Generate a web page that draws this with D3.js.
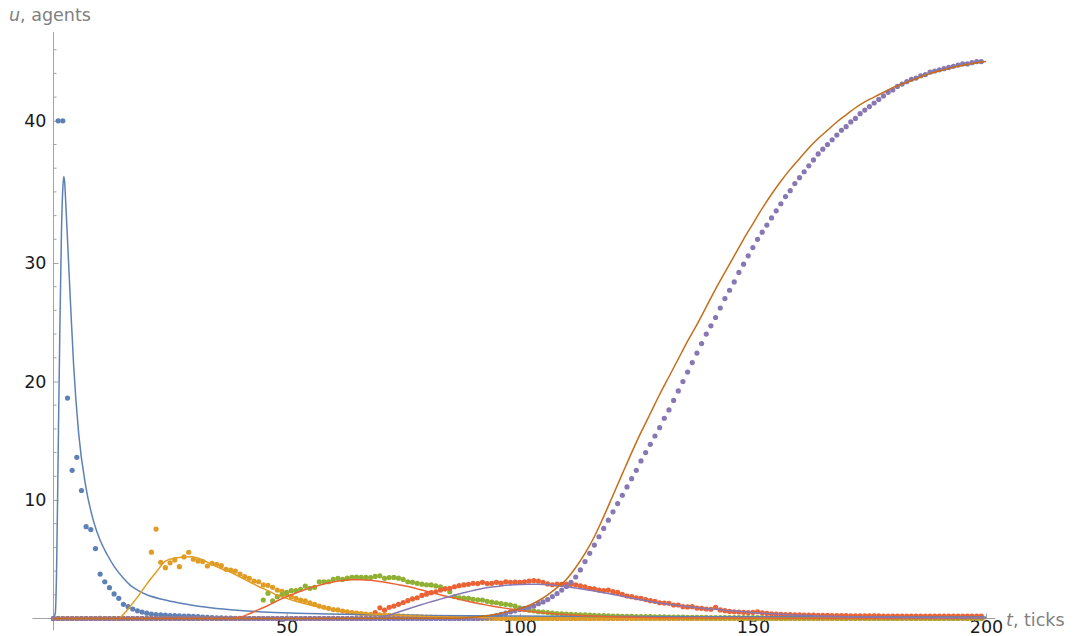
<!DOCTYPE html>
<html><head><meta charset="utf-8">
<script src="https://cdn.jsdelivr.net/npm/d3@7"></script>
<style>body{margin:0;background:#fff}svg{display:block}</style>
</head><body>
<svg id="c" width="1076" height="636"></svg>
<script>
// ---- tick data ----
const xTicks = [50, 100, 150, 200];
const xTickLabels = ["50", "100", "150", "200"];
const xMinor = [10,20,30,40,60,70,80,90,110,120,130,140,160,170,180,190];
const yTicks = [10, 20, 30, 42];
const yTickLabels = ["10", "20", "30", "40"];
const yMinor = [2,4,6,8,12,14,16,18,22,24,26,28,32,34,36,38,40,44,46,48];

// ---- simulation points, t = 0..199 ----
const blueDots = [
0,42,42,18.6,12.5,13.6,10.8,7.75,7.5,5.9,
3.75,3.1,2.6,2.07,1.7,1.2,1.0,0.8,0.65,0.55,
0.45,0.38,0.33,0.3,0.28,0.25,0.24,0.22,0.2,0.2,
0.18,0.15,0.12,0.1,0.08,0.06,0.05,0.04,0.03,0.02,
0,0,0,0,0,0,0,0,0,0, 0,0,0,0,0,0,0,0,0,0,
0,0,0,0,0,0,0,0,0,0, 0,0,0,0,0,0,0,0,0,0,
0,0,0,0,0,0,0,0,0,0, 0,0,0,0,0,0,0,0,0,0,
0,0,0,0,0,0,0,0,0,0, 0,0,0,0,0,0,0,0,0,0,
0,0,0,0,0,0,0,0,0,0, 0,0,0,0,0,0,0,0,0,0,
0,0,0,0,0,0,0,0,0,0, 0,0,0,0,0,0,0,0,0,0,
0,0,0,0,0,0,0,0,0,0, 0,0,0,0,0,0,0,0,0,0,
0,0,0,0,0,0,0,0,0,0, 0,0,0,0,0,0,0,0,0,0];
const orangeDots = [
0,0,0,0,0,0,0,0,0,0,
0,0,0,0,0,0,0,0,0,0,
0,5.6,7.55,4.74,4.29,4.7,4.94,4.37,5.2,5.59,
5.0,4.85,4.8,4.43,4.66,4.57,4.46,4.15,4.09,4.0,
3.75,3.53,3.39,3.16,3.1,2.83,2.8,2.63,2.4,2.3,
2.0,1.84,1.7,1.56,1.48,1.33,1.2,1.05,0.95,0.86,
0.75,0.72,0.63,0.57,0.5,0.45,0.42,0.38,0.35,0.33,
0.3,0.28,0.26,0.24,0.22,0.2,0.18,0.17,0.15,0.14,
0.12,0.11,0.1,0.09,0.08,0.07,0.06,0.05,0.05,0.04,
0.04,0.03,0.03,0.02,0.02,0.01,0,0,0,0,
0,0,0,0,0,0,0,0,0,0, 0,0,0,0,0,0,0,0,0,0,
0,0,0,0,0,0,0,0,0,0, 0,0,0,0,0,0,0,0,0,0,
0,0,0,0,0,0,0,0,0,0, 0,0,0,0,0,0,0,0,0,0,
0,0,0,0,0,0,0,0,0,0, 0,0,0,0,0,0,0,0,0,0,
0,0,0,0,0,0,0,0,0,0, 0,0,0,0,0,0,0,0,0,0];
const greenDots = [
0,0,0,0,0,0,0,0,0,0, 0,0,0,0,0,0,0,0,0,0,
0,0,0,0,0,0,0,0,0,0, 0,0,0,0,0,0,0,0,0,0,
0,0,0,0,0,1.56,2.13,1.48,1.84,2.0,
2.2,2.35,2.35,2.46,2.74,2.55,2.63,3.1,3.1,3.1,
3.3,3.39,3.3,3.4,3.47,3.5,3.47,3.47,3.45,3.55,
3.6,3.39,3.45,3.47,3.4,3.3,3.1,3.05,2.97,2.9,
2.85,2.83,2.75,2.68,2.5,2.26,1.85,1.75,1.72,1.7,
1.62,1.58,1.56,1.45,1.38,1.33,1.25,1.2,1.14,1.05,
0.9,0.75,0.7,0.65,0.57,0.55,0.5,0.45,0.42,0.4,
0.38,0.35,0.33,0.31,0.3,0.28,0.26,0.25,0.24,0.22,
0.21,0.2,0.19,0.18,0.18,0.17,0.16,0.15,0.15,0.14,
0.13,0.13,0.12,0.12,0.11,0.11,0.1,0.1,0.1,0.09,
0.09,0.08,0.08,0.08,0.08,0.08,0.08,0.08,0.08,0.08,
0.07,0.07,0.07,0.07,0.07,0.07,0.07,0.07,0.07,0.07,
0.06,0.06,0.06,0.06,0.06,0.06,0.06,0.06,0.06,0.06,
0.05,0.05,0.05,0.05,0.05,0.05,0.05,0.05,0.05,0.05,
0.05,0.05,0.05,0.05,0.05,0.05,0.05,0.05,0.05,0.05,
0.04,0.04,0.04,0.04,0.04,0.04,0.04,0.04,0.04,0.04];
const redDots = [
0,0,0,0,0,0,0,0,0,0, 0,0,0,0,0,0,0,0,0,0,
0,0,0,0,0,0,0,0,0,0, 0,0,0,0,0,0,0,0,0,0,
0,0,0,0,0,0,0,0,0,0, 0,0,0,0,0,0,0,0,0,0,
0,0,0,0,0,0,0,0,0,0.5,
0.9,0.7,0.95,1.05,1.2,1.35,1.5,1.65,1.75,1.95,
2.05,2.18,2.25,2.4,2.5,2.55,2.68,2.77,2.83,2.88,
2.97,2.95,3.05,2.95,2.97,3.05,2.98,3.1,3.05,3.08,
3.05,3.1,3.16,3.2,3.16,3.05,2.92,2.85,2.9,2.88,
2.9,2.88,2.85,2.75,2.68,2.55,2.5,2.4,2.35,2.4,
2.26,2.2,2.04,1.9,1.84,1.75,1.7,1.6,1.5,1.45,
1.33,1.3,1.28,1.14,1.14,1.0,0.98,1.0,0.88,0.86,
0.8,0.78,0.95,0.72,0.66,0.6,0.57,0.55,0.52,0.5,
0.52,0.57,0.48,0.44,0.4,0.38,0.35,0.33,0.32,0.3,
0.3,0.29,0.28,0.28,0.27,0.26,0.26,0.25,0.25,0.24,
0.24,0.23,0.23,0.23,0.22,0.22,0.22,0.22,0.21,0.21,
0.21,0.21,0.21,0.2,0.2,0.2,0.2,0.2,0.2,0.2,
0.2,0.2,0.2,0.2,0.2,0.2,0.2,0.2,0.2,0.2];
const purpleDots = [
0,0,0,0,0,0,0,0,0,0, 0,0,0,0,0,0,0,0,0,0,
0,0,0,0,0,0,0,0,0,0, 0,0,0,0,0,0,0,0,0,0,
0,0,0,0,0,0,0,0,0,0, 0,0,0,0,0,0,0,0,0,0,
0,0,0,0,0,0,0,0,0,0, 0,0,0,0,0,0,0,0,0,0,
0,0,0,0,0,0,0,0,0,0,
0,0,0.05,0.1,0.15,0.25,0.35,0.45,0.55,0.65,
0.75,0.85,0.95,1.05,1.25,1.4,1.6,1.85,2.1,2.4,
2.7,3.05,3.5,4.1,4.8,5.5,6.2,6.9,7.6,8.3,
9.0,9.7,10.4,11.1,11.8,12.5,13.3,14.0,14.7,15.4,
16.1,16.9,17.6,18.4,19.2,20.0,20.8,21.6,22.4,23.2,
24.0,24.7,25.4,26.2,27.0,27.7,28.4,29.2,29.9,30.6,
31.3,32.0,32.6,33.2,33.8,34.4,35.0,35.6,36.1,36.7,
37.2,37.7,38.2,38.7,39.2,39.6,40.0,40.4,40.8,41.2,
41.5,41.9,42.2,42.6,42.9,43.2,43.5,43.8,44.1,44.4,
44.6,44.9,45.1,45.3,45.5,45.6,45.8,45.9,46.1,46.2,
46.3,46.4,46.5,46.6,46.7,46.8,46.8,46.9,47.0,47.0];

// ---- model curves, [t, u] ----
const blueFit = [[0,0],[0.4,0.5],[0.7,5],[1,14],[1.35,24],[1.7,32.5],[2.0,36.3],[2.2,37.3],[2.4,36.8],[2.6,35.3],[3,32],[3.6,27],[4.3,21.5],[5.4,15.6],[6.9,11.2],[8.6,8.2],[10,6.6],[11.5,5.4],[13,4.4],[15,3.4],[16.5,2.8],[18,2.4],[20,2.0],[23.5,1.6],[27,1.3],[30.7,1.05],[35,0.85],[38,0.74],[45,0.55],[52,0.45],[59,0.38],[69,0.31],[80,0.26],[100,0.21],[125,0.17],[150,0.15],[175,0.13],[200,0.12]];
const orangeFit = [[0,0],[14,0],[15,0.35],[16,0.8],[17,1.3],[18,1.8],[19,2.35],[20,2.9],[22,3.9],[24,4.85],[26,5.1],[28,5.2],[29.6,5.22],[32,4.95],[34,4.55],[36,4.2],[38,3.9],[40,3.5],[42,3.1],[44,2.7],[46,2.35],[48,1.95],[50,1.7],[52,1.45],[54,1.25],[56,1.05],[58,0.88],[60,0.72],[63,0.56],[66,0.45],[70,0.35],[75,0.25],[80,0.17],[90,0.08],[100,0.04],[120,0.01],[200,0]];
const redFit = [[0,0],[38,0],[40,0.1],[42,0.4],[44,0.75],[46,1.1],[48,1.5],[50,1.85],[52,2.15],[54,2.45],[56,2.7],[58,2.92],[60,3.08],[62,3.2],[64,3.27],[66,3.28],[68,3.22],[70,3.12],[72,3.0],[74,2.85],[76,2.7],[78,2.5],[80,2.3],[82,2.1],[84,1.9],[86,1.72],[88,1.53],[90,1.35],[92,1.2],[94,1.05],[96,0.92],[98,0.8],[100,0.7],[104,0.52],[108,0.38],[112,0.28],[120,0.15],[130,0.07],[150,0.02],[200,0]];
const purpleFit = [[0,0],[68,0],[70,0.1],[72,0.3],[74,0.55],[76,0.8],[78,1.05],[80,1.3],[82,1.52],[84,1.75],[86,1.97],[88,2.17],[90,2.37],[92,2.53],[94,2.65],[96,2.75],[98,2.82],[100,2.86],[102,2.88],[104,2.88],[106,2.85],[108,2.78],[110,2.68],[112,2.57],[114,2.45],[116,2.32],[118,2.18],[120,2.03],[122,1.88],[124,1.73],[126,1.58],[128,1.44],[130,1.31],[132,1.2],[134,1.1],[136,1.0],[138,0.92],[140,0.84],[144,0.7],[148,0.57],[152,0.45],[156,0.35],[160,0.27],[170,0.15],[180,0.09],[200,0.04]];
const brownFit = [[0,0],[84,0.02],[88,0.05],[90,0.1],[92,0.18],[94,0.3],[96,0.45],[98,0.65],[100,0.85],[102,1.1],[104,1.5],[106,2.0],[108,2.6],[110,3.3],[112,4.3],[114,5.5],[116,6.9],[118,8.6],[120,10.4],[122,12.2],[124,14.0],[126,15.7],[128,17.3],[130,18.9],[132,20.4],[134,21.9],[136,23.4],[138,24.8],[140,26.3],[142,27.8],[144,29.2],[146,30.6],[148,32.0],[150,33.3],[152,34.6],[154,35.8],[156,36.9],[158,37.9],[160,38.8],[162,39.7],[164,40.5],[166,41.2],[168,41.9],[170,42.5],[172,43.1],[174,43.6],[176,44.0],[178,44.4],[180,44.8],[182,45.1],[184,45.4],[186,45.7],[188,46.0],[190,46.2],[192,46.4],[194,46.6],[196,46.75],[198,46.9],[200,47.0]];

// ---- styling ----
const C = {blue:"#5E81B5", orange:"#E19C24", green:"#8FB032", red:"#EB6235", purple:"#8778B3", brown:"#C56E1A"};
const dotSeries = [
  {values: blueDots, color: C.blue},
  {values: orangeDots, color: C.orange},
  {values: greenDots, color: C.green},
  {values: redDots, color: C.red},
  {values: purpleDots, color: C.purple}
];
const lineSeries = [
  {values: blueFit, color: C.blue},
  {values: orangeFit, color: C.orange},
  {values: redFit, color: C.red},
  {values: purpleFit, color: C.purple},
  {values: brownFit, color: C.brown}
];

const svg = d3.select("#c");
const x = d3.scaleLinear().domain([0, 200]).range([53.5, 986]);
const y = d3.scaleLinear().domain([0, 49.5]).range([618.5, 31.9]);
const axisColor = "#a3a3a3";
const font = "'DejaVu Sans', sans-serif";

// axes lines
const ax = svg.append("g");
ax.append("line").attr("x1", x(-4.5)).attr("x2", x(202)).attr("y1", y(0)).attr("y2", y(0))
  .attr("stroke", axisColor).attr("stroke-width", 1);
ax.append("line").attr("x1", x(0)).attr("x2", x(0)).attr("y1", y(-1)).attr("y2", y(49.5))
  .attr("stroke", axisColor).attr("stroke-width", 1);

const xAxis = d3.axisBottom(x).tickValues(xTicks).tickFormat((d, i) => xTickLabels[i])
  .tickSizeInner(-5).tickSizeOuter(0).tickPadding(2);
const gx = svg.append("g").attr("transform", `translate(0,${y(0)})`).call(xAxis);
gx.select(".domain").remove();
gx.selectAll(".tick line").attr("stroke", axisColor);
gx.selectAll(".tick text").attr("fill", "#1a1a1a").style("font-family", font).style("font-size", "17.5px");
gx.selectAll(".minor").data(xMinor).enter().append("line")
  .attr("x1", d => x(d)).attr("x2", d => x(d)).attr("y1", 0).attr("y2", -3).attr("stroke", axisColor);

const yAxis = d3.axisLeft(y).tickValues(yTicks).tickFormat((d, i) => yTickLabels[i])
  .tickSizeInner(-5).tickSizeOuter(0).tickPadding(7);
const gy = svg.append("g").attr("transform", `translate(${x(0)},0)`).call(yAxis);
gy.select(".domain").remove();
gy.selectAll(".tick line").attr("stroke", axisColor);
gy.selectAll(".tick text").attr("fill", "#1a1a1a").style("font-family", font).style("font-size", "17.5px");
gy.selectAll(".minor").data(yMinor).enter().append("line")
  .attr("x1", 0).attr("x2", 3).attr("y1", d => y(d)).attr("y2", d => y(d)).attr("stroke", axisColor);

// axis labels
const lu = svg.append("text").attr("x", 9).attr("y", 21).attr("fill", "#808080")
  .style("font-family", font).style("font-size", "17.5px");
lu.append("tspan").attr("font-style", "italic").text("u");
lu.append("tspan").text(", agents");
const lt = svg.append("text").attr("x", 1006).attr("y", 626).attr("fill", "#808080")
  .style("font-family", font).style("font-size", "17.5px");
lt.append("tspan").attr("font-style", "italic").text("t");
lt.append("tspan").text(", ticks");

// points
dotSeries.forEach(s => {
  svg.append("g").selectAll("circle").data(s.values).enter().append("circle")
    .attr("cx", (d, i) => x(i)).attr("cy", d => y(d)).attr("r", 2.6).attr("fill", s.color);
});

// curves
const line = d3.line().x(d => x(d[0])).y(d => y(d[1])).curve(d3.curveMonotoneX);
lineSeries.forEach(s => {
  svg.append("path").datum(s.values).attr("d", line).attr("fill", "none")
    .attr("stroke", s.color).attr("stroke-width", 1.5).attr("stroke-linejoin", "round");
});
</script>
</body></html>
